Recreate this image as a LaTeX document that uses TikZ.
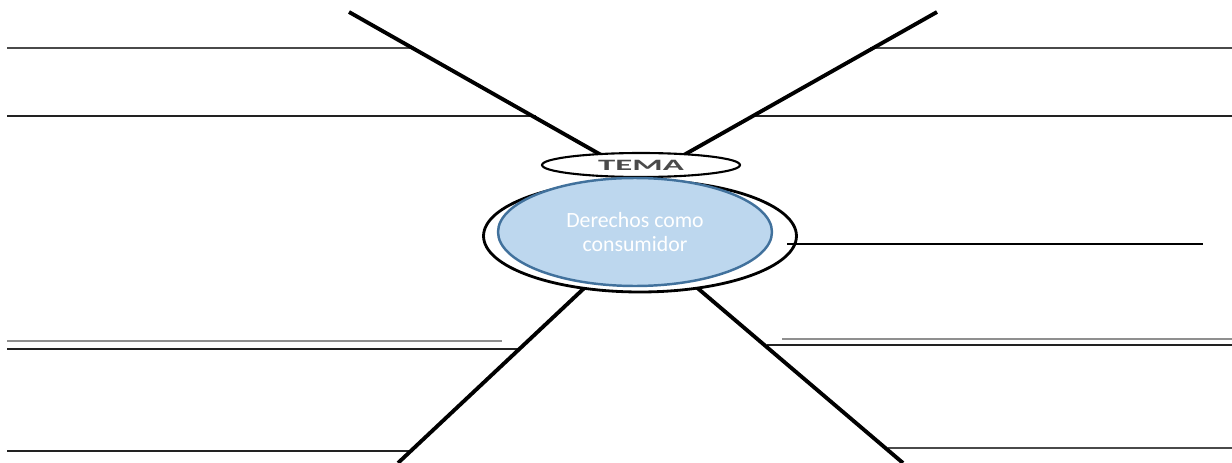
\documentclass[tikz,border=0pt]{standalone}
\usepackage{fontspec}
\setmainfont{Carlito}
\usetikzlibrary{shapes.geometric}
\definecolor{bluefill}{HTML}{BDD7EE}
\definecolor{blueedge}{HTML}{41719C}
\definecolor{lineA}{HTML}{4A4A4A}
\definecolor{lineB}{HTML}{222222}
\definecolor{lineG}{HTML}{8F8F8F}
\tikzset{
  hline/.style={draw=lineA, line width=1.5pt},
  hlineb/.style={draw=lineB, line width=1.3pt},
  hlineg/.style={draw=lineG, line width=1.1pt},
  diag/.style={draw=black, line width=2.2pt},
  thin line/.style={draw=black, line width=0.6pt},
  outerell/.style={ellipse, draw=black, line width=1.6pt, fill=white, minimum width=6.26cm, minimum height=2.24cm, inner sep=0pt},
  temaell/.style={ellipse, draw=black, line width=1.2pt, fill=white, minimum width=3.96cm, minimum height=0.48cm, inner sep=0pt},
  centerell/.style={ellipse, draw=blueedge, line width=1.4pt, fill=bluefill, minimum width=5.48cm, minimum height=2.16cm, inner sep=0pt, text=white, font=\fontsize{12.4}{14.2}\selectfont, align=center},
}
\begin{document}
\begin{tikzpicture}[x=0.02cm, y=-0.02cm]
\useasboundingbox (0,0) rectangle (1232,463);
% end points
\coordinate (tlA) at (7,48);   \coordinate (tlB) at (415,48);
\coordinate (tl2A) at (7,116); \coordinate (tl2B) at (536,116);
\coordinate (trA) at (870,48); \coordinate (trB) at (1232,48);
\coordinate (tr2A) at (752,116); \coordinate (tr2B) at (1232,116);
\coordinate (mrA) at (787,244); \coordinate (mrB) at (1203,244);
\coordinate (blgA) at (7,341); \coordinate (blgB) at (502,341);
\coordinate (blA) at (7,349); \coordinate (blB) at (519,349);
\coordinate (bl2A) at (7,451); \coordinate (bl2B) at (412,451);
\coordinate (brgA) at (782,339); \coordinate (brgB) at (1232,339);
\coordinate (brA) at (767,345); \coordinate (brB) at (1232,345);
\coordinate (br2A) at (888,448); \coordinate (br2B) at (1232,448);
\coordinate (dTL) at (349,12);
\coordinate (dTR) at (937,12);
\coordinate (dBL) at (398,463);
\coordinate (dBR) at (903,463);
\coordinate (cTL) at (610,160);
\coordinate (cTR) at (675,160);
\coordinate (cBL) at (595,278);
\coordinate (cBR) at (688,280);
% horizontal lines
\draw[hline] (tlA) -- (tlB);
\draw[hlineb] (tl2A) -- (tl2B);
\draw[hline] (trA) -- (trB);
\draw[hlineb] (tr2A) -- (tr2B);
\draw[hlineg] (blgA) -- (blgB);
\draw[hlineb] (blA) -- (blB);
\draw[hlineb] (bl2A) -- (bl2B);
\draw[hlineg] (brgA) -- (brgB);
\draw[hlineb] (brA) -- (brB);
\draw[hline] (br2A) -- (br2B);
% diagonals
\draw[diag] (dTL) -- (cTL);
\draw[diag] (dTR) -- (cTR);
\draw[diag] (cBL) -- (dBL);
\draw[diag] (cBR) -- (dBR);
% ellipses
\node[outerell] (outer) at (640,236) {};
\draw[thin line] (mrA) -- (mrB);
\node[temaell] (tema) at (641,165) {\scalebox{2.2}[1]{\textcolor{lineA}{\fontsize{9}{9}\selectfont\bfseries TEMA}}};
\node[centerell] (centro) at (635,232) {Derechos como\\consumidor};
\end{tikzpicture}
\end{document}
